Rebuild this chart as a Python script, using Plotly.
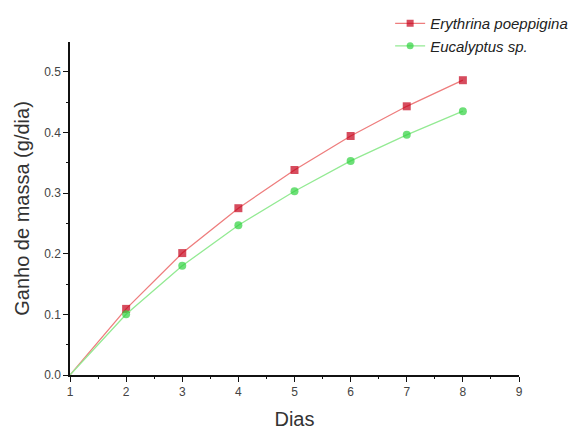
import plotly.graph_objects as go

dias = [1, 2, 3, 4, 5, 6, 7, 8]
erythrina = [0.0, 0.109, 0.201, 0.275, 0.338, 0.394, 0.443, 0.486]
eucalyptus = [0.0, 0.100, 0.180, 0.247, 0.303, 0.353, 0.396, 0.435]
x_ticks = [1, 2, 3, 4, 5, 6, 7, 8, 9]
y_ticks = [0.0, 0.1, 0.2, 0.3, 0.4, 0.5]
y_tick_text = ["0.0", "0.1", "0.2", "0.3", "0.4", "0.5"]

msize = [0] + [8] * (len(dias) - 1)

fig = go.Figure()
fig.add_trace(go.Scatter(
    x=dias, y=erythrina, mode="lines+markers", name="Erythrina poeppigina",
    line=dict(color="#ee7d7d", width=1.3),
    marker=dict(symbol="square", size=msize, color="#c4001a", line=dict(width=0)),
))
fig.add_trace(go.Scatter(
    x=dias, y=eucalyptus, mode="lines+markers", name="Eucalyptus sp.",
    line=dict(color="#93ea93", width=1.3),
    marker=dict(symbol="circle", size=msize, color="#2fd23f", line=dict(width=0)),
))

font_family = "Liberation Sans, Arial, sans-serif"
# the page body adds an 8px offset, so the figure is sized to fit the window
fig.update_layout(
    width=571, height=422,
    margin=dict(l=62, r=60, t=34, b=55, autoexpand=False),
    paper_bgcolor="white", plot_bgcolor="white",
    font=dict(family=font_family, color="#333333"),
    showlegend=True,
    legend=dict(
        x=0.713, y=1.105, xanchor="left", yanchor="top",
        bgcolor="rgba(0,0,0,0)",
        font=dict(size=15, color="#222222", style="italic"),
        itemwidth=30, tracegroupgap=0,
    ),
    xaxis=dict(
        range=[1, 9], tickvals=x_ticks, showgrid=False, zeroline=False,
        showline=True, linecolor="#111111", linewidth=1.5,
        ticks="outside", ticklen=5, tickcolor="#111111", automargin=False,
        tickfont=dict(size=12, color="#444444"),
        minor=dict(ticks="outside", ticklen=2, dtick=0.5, tickcolor="#111111"),
        title=dict(text="Dias", font=dict(size=20, color="#333333"), standoff=20),
    ),
    yaxis=dict(
        range=[0, 0.549], tickvals=y_ticks, ticktext=y_tick_text,
        showgrid=False, zeroline=False,
        showline=True, linecolor="#111111", linewidth=1.5,
        ticks="outside", ticklen=5, tickcolor="#111111", automargin=False,
        tickfont=dict(size=12, color="#444444"),
        minor=dict(ticks="outside", ticklen=2, dtick=0.05, tickcolor="#111111"),
        title=dict(text="Ganho de massa (g/dia)", font=dict(size=20, color="#333333"), standoff=9),
    ),
)

fig.write_html("out.html")
